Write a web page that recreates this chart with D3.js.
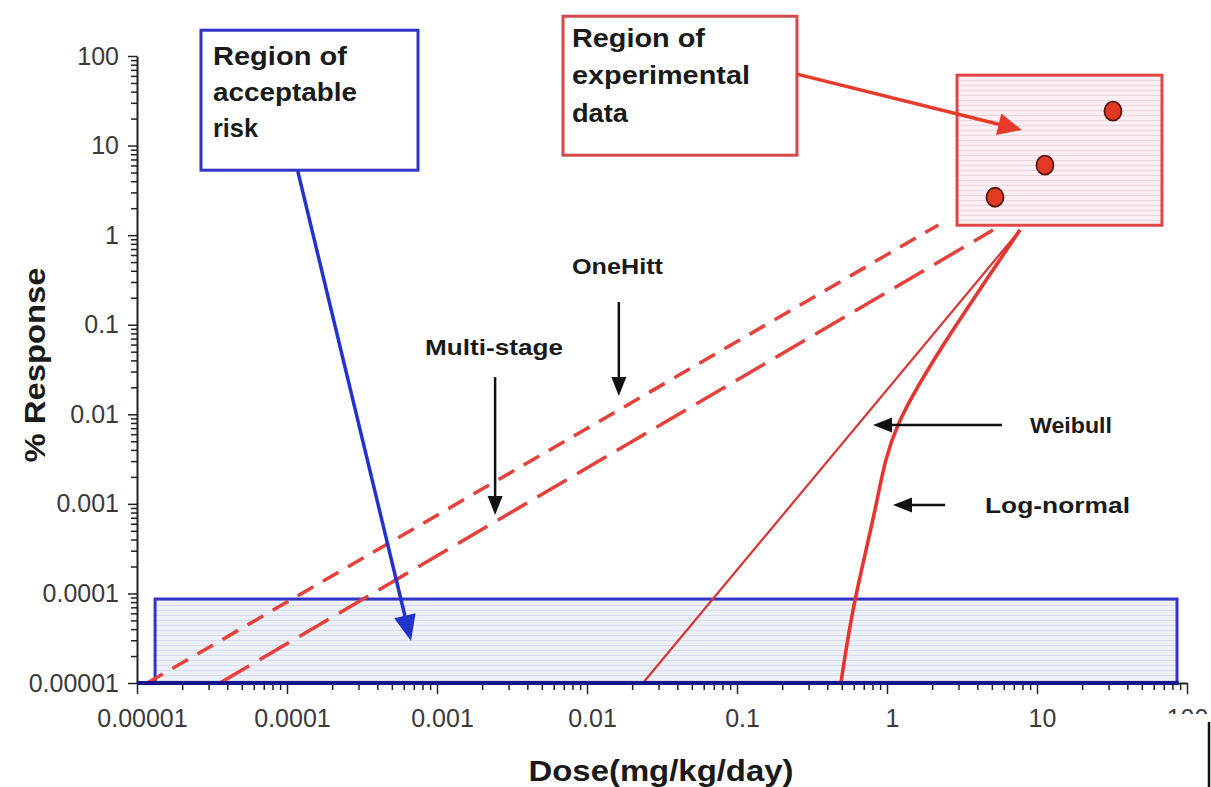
<!DOCTYPE html>
<html><head><meta charset="utf-8">
<script src="https://cdn.jsdelivr.net/npm/d3@7"></script>
<style>html,body{margin:0;padding:0;background:#fff;overflow:hidden}</style>
</head><body>
<svg id="chart" width="1211" height="787"></svg>
<script>
// ---------- data ----------
const tickValues = [1e-5, 1e-4, 1e-3, 1e-2, 1e-1, 1, 10, 100];
const doseTickLabels = ["0.00001", "0.0001", "0.001", "0.01", "0.1", "1", "10", "100"];
const respTickLabels = ["0.00001", "0.0001", "0.001", "0.01", "0.1", "1", "10", "100"];

const expDose = [5.25, 11.3, 32.1];
const expResp = [2.65, 6.04, 24.2];

const oneHitDose = [1.17e-5, 2.2];
const oneHitResp = [1e-5, 1.3];
const multiStageDose = [3.57e-5, 5.09];
const multiStageResp = [1e-5, 1.14];
const weibullDose = [0.0236, 7.7];
const weibullResp = [1e-5, 1.14];
const logNormalDose = [0.493, 0.612, 0.845, 1.184, 2.754, 7.7];
const logNormalResp = [1e-5, 8.4e-5, 0.00097, 0.00757, 0.0871, 1.14];

const acceptRegionDose = [1.32e-5, 85.8];
const acceptRegionResp = [1e-5, 8.66e-5];
const expRegionDose = [2.93, 68.1];
const expRegionResp = [1.29, 61.1];

// ---------- setup ----------
const FONT = "'Liberation Sans', Arial, Helvetica, sans-serif";
const svg = d3.select("#chart");
const x = d3.scaleLog().domain([1e-5, 100]).range([137, 1187]);
const y = d3.scaleLog().domain([1e-5, 100]).range([683, 56]);
const zip = (a, b) => a.map((v, i) => [v, b[i]]);

const defs = svg.append("defs");
function hatch(id, base, line) {
  const p = defs.append("pattern").attr("id", id).attr("patternUnits", "userSpaceOnUse")
    .attr("width", 6).attr("height", 5);
  p.append("rect").attr("width", 6).attr("height", 5).attr("fill", base);
  p.append("line").attr("x1", 0).attr("x2", 6).attr("y1", 0.5).attr("y2", 0.5)
    .attr("stroke", line).attr("stroke-width", 1);
}
hatch("hatchBlue", "#eff1fa", "#d7dbee");
hatch("hatchRed", "#fcf0f4", "#ecd4dc");

// ---------- region of acceptable risk ----------
svg.append("rect")
  .attr("x", x(acceptRegionDose[0])).attr("y", y(acceptRegionResp[1]))
  .attr("width", x(acceptRegionDose[1]) - x(acceptRegionDose[0]))
  .attr("height", y(acceptRegionResp[0]) - y(acceptRegionResp[1]))
  .attr("fill", "url(#hatchBlue)").attr("stroke", "#3434c6").attr("stroke-width", 3);

// ---------- curves ----------
const line = d3.line().x(d => x(d[0])).y(d => y(d[1]));
const curved = d3.line().x(d => x(d[0])).y(d => y(d[1])).curve(d3.curveNatural);
svg.append("path").attr("d", line(zip(oneHitDose, oneHitResp)))
  .attr("fill", "none").attr("stroke", "#e5403a").attr("stroke-width", 3.5).attr("stroke-dasharray", "18,11");
svg.append("path").attr("d", line(zip(multiStageDose, multiStageResp)))
  .attr("fill", "none").attr("stroke", "#e5403a").attr("stroke-width", 3.5).attr("stroke-dasharray", "34,12");
svg.append("path").attr("d", line(zip(weibullDose, weibullResp)))
  .attr("fill", "none").attr("stroke", "#d83434").attr("stroke-width", 2.2);
svg.append("path").attr("d", curved(zip(logNormalDose, logNormalResp)))
  .attr("fill", "none").attr("stroke", "#e53530").attr("stroke-width", 3.6);

// ---------- axes ----------
const minorTicks = [];
for (let e = -5; e < 2; e++) for (let k = 2; k <= 9; k++) minorTicks.push(k * Math.pow(10, e));

function styleAxis(g) {
  g.attr("font-family", FONT).attr("font-size", 25).attr("color", "#222");
  g.selectAll("line").attr("stroke-width", 1.5);
  g.selectAll("text").attr("fill", "#3a3a3a");
}
const yMinor = svg.append("g").attr("transform", `translate(${x(1e-5)},0)`)
  .call(d3.axisLeft(y).tickValues(minorTicks).tickSize(6).tickFormat(""));
yMinor.select(".domain").remove(); styleAxis(yMinor);
const yMajor = svg.append("g").attr("transform", `translate(${x(1e-5)},0)`)
  .call(d3.axisLeft(y).tickValues(tickValues).tickSize(9).tickSizeOuter(0).tickPadding(9)
    .tickFormat((d, i) => respTickLabels[i]));
styleAxis(yMajor); yMajor.select(".domain").attr("stroke-width", 2);

const xMinor = svg.append("g").attr("transform", `translate(0,${y(1e-5)})`)
  .call(d3.axisBottom(x).tickValues(minorTicks).tickSize(7).tickFormat(""));
xMinor.select(".domain").remove(); styleAxis(xMinor);
const xMajor = svg.append("g").attr("transform", `translate(0,${y(1e-5)})`)
  .call(d3.axisBottom(x).tickValues(tickValues).tickSize(11).tickSizeOuter(0).tickPadding(15)
    .tickFormat((d, i) => doseTickLabels[i]));
styleAxis(xMajor); xMajor.select(".domain").attr("stroke-width", 2);
xMajor.selectAll("text").attr("dx", (d, i) => i === tickValues.length - 1 ? 0 : 5);

// navy bottom border of acceptable region over the axis
svg.append("line")
  .attr("x1", x(1e-5)).attr("x2", x(acceptRegionDose[1]) + 1.5)
  .attr("y1", y(acceptRegionResp[0])).attr("y2", y(acceptRegionResp[0]))
  .attr("stroke", "#16168c").attr("stroke-width", 4);

// ---------- region of experimental data ----------
svg.append("rect")
  .attr("x", x(expRegionDose[0])).attr("y", y(expRegionResp[1]))
  .attr("width", x(expRegionDose[1]) - x(expRegionDose[0]))
  .attr("height", y(expRegionResp[0]) - y(expRegionResp[1]))
  .attr("fill", "url(#hatchRed)").attr("stroke", "#e24646").attr("stroke-width", 3);
svg.append("g").selectAll("ellipse").data(zip(expDose, expResp)).join("ellipse")
  .attr("cx", d => x(d[0])).attr("cy", d => y(d[1])).attr("rx", 8.5).attr("ry", 9.5)
  .attr("fill", "#e23a22").attr("stroke", "#5a1410").attr("stroke-width", 1.8);

// ---------- helpers ----------
function arrow(d1, r1, d2, r2, color, w, hl, hw) {
  const x1 = x(d1), y1 = y(r1), x2 = x(d2), y2 = y(r2);
  const a = Math.atan2(y2 - y1, x2 - x1);
  const bx = x2 - hl * Math.cos(a), by = y2 - hl * Math.sin(a);
  svg.append("line").attr("x1", x1).attr("y1", y1)
    .attr("x2", bx + 2 * Math.cos(a)).attr("y2", by + 2 * Math.sin(a))
    .attr("stroke", color).attr("stroke-width", w);
  const px = -Math.sin(a) * hw / 2, py = Math.cos(a) * hw / 2;
  svg.append("path").attr("d", `M${x2},${y2}L${bx + px},${by + py}L${bx - px},${by - py}Z`).attr("fill", color);
}
function label(dv, rv, str, size, len, anchor) {
  const t = svg.append("text").attr("x", x(dv)).attr("y", y(rv)).text(str)
    .attr("font-family", FONT).attr("font-weight", "bold").attr("font-size", size)
    .attr("fill", "#1a1a1a").attr("text-anchor", anchor || "start");
  if (len) t.attr("textLength", len).attr("lengthAdjust", "spacingAndGlyphs");
  return t;
}
function box(d0, d1, r0, r1, color) {
  svg.append("rect").attr("x", x(d0)).attr("y", y(r0))
    .attr("width", x(d1) - x(d0)).attr("height", y(r1) - y(r0))
    .attr("fill", "#fff").attr("stroke", color).attr("stroke-width", 3);
}

// ---------- callout: acceptable risk ----------
box(2.67e-5, 7.47e-4, 194, 5.31, "#3434c6");
label(3.21e-5, 78.9, "Region of", 25, 134);
label(3.21e-5, 31.3, "acceptable", 25, 144);
label(3.21e-5, 12.4, "risk", 25, 45);
arrow(1.18e-4, 5.18, 6.71e-4, 2.94e-5, "#2233cc", 3.5, 26, 22);

// ---------- callout: experimental data ----------
box(6.92e-3, 0.251, 278, 7.81, "#d44a4a");
label(7.94e-3, 125, "Region of", 25, 133);
label(7.94e-3, 48.4, "experimental", 25, 178);
label(7.94e-3, 18.2, "data", 25, 56);
arrow(0.251, 62.7, 7.94, 14.9, "#e83a2a", 3.5, 24, 22);

// ---------- model labels ----------
label(7.94e-3, 0.367, "OneHitt", 22, 91);
arrow(0.0163, 0.179, 0.0163, 0.016, "#111", 2.5, 19, 15);
label(8.32e-4, 0.0458, "Multi-stage", 22, 138);
arrow(2.44e-3, 0.026, 2.44e-3, 7.5e-4, "#111", 2.5, 19, 15);
label(8.98, 6.17e-3, "Weibull", 22, 82);
arrow(5.84, 7.57e-3, 0.807, 7.57e-3, "#111", 2.5, 19, 15);
label(4.5, 7.88e-4, "Log-normal", 22, 145);
arrow(2.44, 9.7e-4, 1.096, 9.7e-4, "#111", 2.5, 19, 15);

// ---------- axis titles ----------
svg.append("text").attr("transform", "translate(45,365) rotate(-90)")
  .attr("text-anchor", "middle").attr("font-family", FONT).attr("font-weight", "bold")
  .attr("font-size", 30).attr("fill", "#1a1a1a")
  .attr("textLength", 195).attr("lengthAdjust", "spacingAndGlyphs").text("% Response");
svg.append("text").attr("x", 661).attr("y", 781)
  .attr("text-anchor", "middle").attr("font-family", FONT).attr("font-weight", "bold")
  .attr("font-size", 30).attr("fill", "#1a1a1a")
  .attr("textLength", 265).attr("lengthAdjust", "spacingAndGlyphs").text("Dose(mg/kg/day)");

// ---------- occluding frame at the bottom right ----------
svg.append("rect").attr("x", 1150).attr("y", 714).attr("width", 61).attr("height", 73).attr("fill", "#fff");
svg.append("line").attr("x1", 1209).attr("x2", 1209).attr("y1", 722).attr("y2", 787)
  .attr("stroke", "#111").attr("stroke-width", 2.5);
</script>
</body></html>
